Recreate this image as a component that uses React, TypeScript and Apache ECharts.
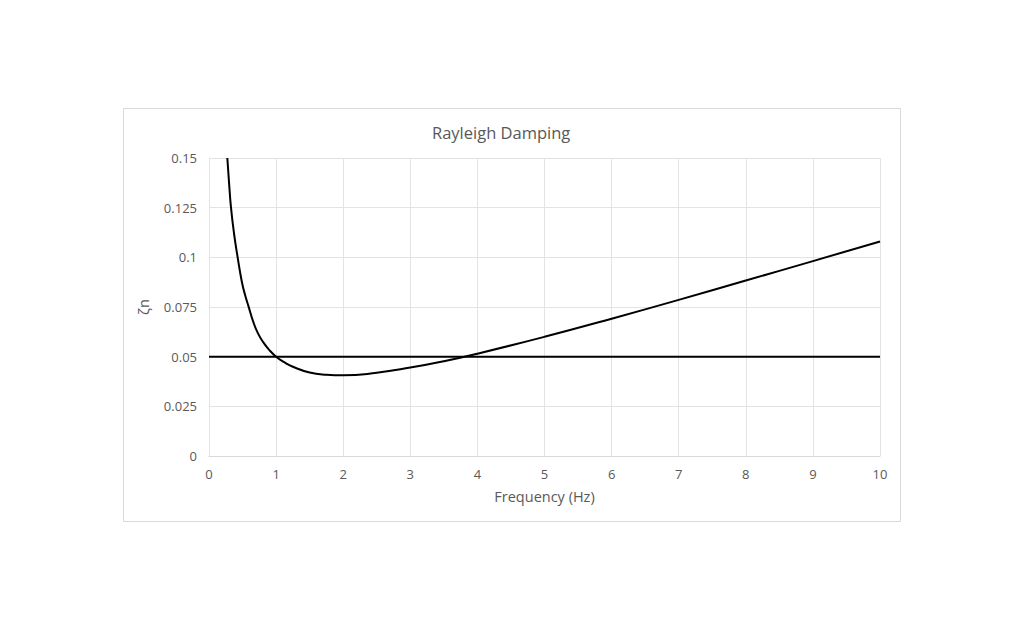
import React, { useEffect, useRef } from "react";
import * as echarts from "echarts";

const frequency = [0.273, 0.3, 0.328, 0.373, 0.427, 0.49, 0.54, 0.59, 0.66, 0.73, 0.81, 0.9, 1, 1.12, 1.25, 1.5, 1.75, 2, 2.5, 3, 3.5, 4, 5, 6, 7, 8, 9, 10];
const damping = [0.15, 0.137, 0.125, 0.112, 0.1, 0.0876, 0.0808, 0.0752, 0.0675, 0.0617, 0.0572, 0.0533, 0.05, 0.0472, 0.0449, 0.042, 0.0409, 0.0406, 0.0419, 0.0445, 0.0477, 0.0515, 0.06, 0.0691, 0.0786, 0.0883, 0.0981, 0.108];
const targetX = [0, 10];
const targetY = [0.05, 0.05];

const FONT = "'Segoe UI', 'Open Sans', 'Noto Sans', sans-serif";
const TEXT = "#595959";
const GRID = "#e3e3e3";

export default function App() {
  const ref = useRef<HTMLDivElement>(null);
  useEffect(() => {
    document.body.style.margin = "0";
    const chart = echarts.init(ref.current!, undefined, { renderer: "svg" });
    chart.setOption({
      animation: false,
      backgroundColor: "#ffffff",
      title: {
        text: "Rayleigh Damping",
        left: 427,
        top: 119,
        textStyle: { fontFamily: FONT, fontSize: 16.5, fontWeight: "normal", color: TEXT },
      },
      graphic: [
        {
          type: "rect",
          shape: { x: 123.5, y: 108.5, width: 777, height: 413 },
          style: { fill: "none", stroke: "#d9d9d9", lineWidth: 1 },
          silent: true,
        },
      ],
      grid: { left: 209, right: 144, top: 158, bottom: 174 },
      xAxis: {
        type: "value",
        min: 0,
        max: 10,
        interval: 1,
        name: "Frequency (Hz)",
        nameLocation: "middle",
        nameGap: 33,
        nameTextStyle: { fontFamily: FONT, fontSize: 14.5, color: TEXT },
        axisLine: { show: true, lineStyle: { color: "#d9d9d9", width: 1 } },
        axisTick: { show: false },
        axisLabel: { fontFamily: FONT, fontSize: 13, color: TEXT, margin: 11 },
        splitLine: { show: true, lineStyle: { color: GRID, width: 1 } },
      },
      yAxis: {
        type: "value",
        min: 0,
        max: 0.15,
        interval: 0.025,
        name: "ζn",
        nameLocation: "middle",
        nameRotate: 90,
        nameGap: 58,
        nameTextStyle: { fontFamily: FONT, fontSize: 14.5, color: TEXT },
        axisLine: { show: true, lineStyle: { color: GRID, width: 1 } },
        axisTick: { show: false },
        axisLabel: { fontFamily: FONT, fontSize: 13, color: TEXT, margin: 12 },
        splitLine: { show: true, lineStyle: { color: GRID, width: 1 } },
      },
      series: [
        {
          type: "line",
          data: frequency.map((f, i) => [f, damping[i]]),
          smooth: 0.5,
          symbol: "none",
          clip: true,
          lineStyle: { color: "#000000", width: 2 },
        },
        {
          type: "line",
          data: targetX.map((f, i) => [f, targetY[i]]),
          symbol: "none",
          lineStyle: { color: "#000000", width: 2 },
        },
      ],
    });
    return () => chart.dispose();
  }, []);
  return <div ref={ref} style={{ width: 1024, height: 630 }} />;
}
